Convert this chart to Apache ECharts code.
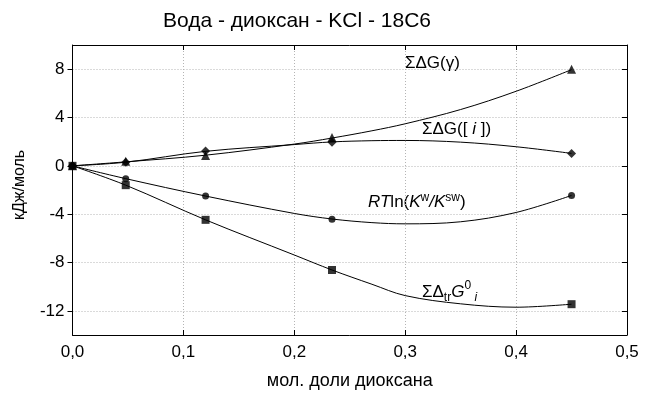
<!DOCTYPE html>
<html>
<head>
<meta charset="utf-8">
<script src="https://cdn.jsdelivr.net/npm/echarts@6/dist/echarts.min.js"></script>
<style>
html,body{margin:0;padding:0;background:#fff;}
#c{width:648px;height:396px;}
</style>
</head>
<body>
<div id="c"></div>
<script>
// ---- data ----
const titleText = 'Вода - диоксан - KCl - 18C6';
const xName = 'мол. доли диоксана';
const yName = 'кДж/моль';
const yTicks = [-12, -8, -4, 0, 4, 8];

// measured points
const xPoints   = [0, 0.048, 0.12, 0.234, 0.45];
const gammaPts  = [0, 0.37, 0.85, 2.35, 8.0];     // ΣΔG(γ)  triangles
const iPts      = [0, 0.30, 1.22, 1.95, 1.03];    // ΣΔG([i]) diamonds
const rtPts     = [0, -1.06, -2.50, -4.42, -2.45];// RTln(Kw/Ksw) circles
const trPts     = [0, -1.60, -4.47, -8.62, -11.45];// ΣΔtrG0i squares

// fitted curves
const xCurve     = [0, 0.048, 0.12, 0.2, 0.234, 0.27, 0.3, 0.35, 0.4, 0.45];
const gammaCurve = [0, 0.33, 0.88, 1.80, 2.30, 2.90, 3.48, 4.66, 6.17, 7.96];
const iCurve     = [0, 0.30, 1.20, 1.76, 1.98, 2.08, 2.10, 1.96, 1.58, 1.03];
const rtCurve    = [0, -1.06, -2.50, -3.94, -4.40, -4.70, -4.80, -4.63, -3.86, -2.45];
const trCurve    = [0, -1.60, -4.47, -7.38, -8.62, -9.80, -10.74, -11.42, -11.70, -11.45];

// ---- build ----
const zip = (xs, ys) => xs.map((x, i) => [x, ys[i]]);
const FONT = '"Liberation Sans", Arial, sans-serif';

const chart = echarts.init(document.getElementById('c'), null, {renderer: 'canvas'});

function curve(ys) {
  return {
    type: 'line', data: zip(xCurve, ys), smooth: 0.35, showSymbol: false, silent: true,
    lineStyle: {color: '#000', width: 1}, z: 2
  };
}
function pts(ys, symbol, size) {
  return {
    type: 'scatter', data: zip(xPoints, ys), symbol: symbol, symbolSize: size,
    itemStyle: {color: '#000'}, z: 3
  };
}

const axisLabelStyle = {color: '#000', fontSize: 17, fontFamily: FONT};
const AF = 17, SF = 12;

const option = {
  backgroundColor: '#fff',
  animation: false,
  grid: {left: 72.5, right: 21, top: 45, bottom: 61, show: false},
  xAxis: [{
    type: 'value', min: 0, max: 0.5, interval: 0.1, position: 'bottom',
    axisLine: {show: true, onZero: false, lineStyle: {color: '#000', width: 1}},
    axisTick: {show: true, inside: true, length: 5, lineStyle: {color: '#000'}},
    axisLabel: Object.assign({margin: 9, formatter: v => v.toFixed(1).replace('.', ',')}, axisLabelStyle),
    splitLine: {show: true, lineStyle: {color: '#b4b4b4', type: [1, 2], width: 1}},
    name: xName, nameLocation: 'middle', nameGap: 37,
    nameTextStyle: {color: '#000', fontSize: 18, fontFamily: FONT}
  }, {
    type: 'value', min: 0, max: 0.5, interval: 0.1, position: 'top',
    axisLine: {show: true, onZero: false, lineStyle: {color: '#000', width: 1}},
    axisTick: {show: true, inside: true, length: 5, lineStyle: {color: '#000'}},
    axisLabel: {show: false}, splitLine: {show: false}
  }],
  yAxis: [{
    type: 'value', min: -14, max: 10, position: 'left',
    axisLine: {show: true, onZero: false, lineStyle: {color: '#000', width: 1}},
    axisTick: {show: true, inside: false, length: 5, customValues: yTicks, lineStyle: {color: '#000'}},
    axisLabel: Object.assign({margin: 8, customValues: yTicks}, axisLabelStyle),
    splitLine: {show: true, lineStyle: {color: '#b4b4b4', type: [1, 2], width: 1}},
    name: yName, nameLocation: 'middle', nameGap: 45, nameRotate: 90,
    nameTextStyle: {color: '#000', fontSize: 16, fontFamily: FONT, padding: [0, 0, 0, 10]}
  }, {
    type: 'value', min: -14, max: 10, position: 'right',
    axisLine: {show: true, onZero: false, lineStyle: {color: '#000', width: 1}},
    axisTick: {show: true, inside: true, length: 5, customValues: yTicks, lineStyle: {color: '#000'}},
    axisLabel: {show: false}, splitLine: {show: false}
  }],
  series: [
    curve(gammaCurve), curve(iCurve), curve(rtCurve), curve(trCurve),
    pts(gammaPts, 'triangle', 9),
    pts(iPts, 'diamond', 9),
    pts(rtPts, 'circle', 7),
    pts(trPts, 'rect', 8)
  ],
  graphic: [
    {type: 'text', x: 297, y: 21, style: {text: titleText, fill: '#000', font: '21px ' + FONT, textAlign: 'center', textVerticalAlign: 'middle'}},
    {type: 'text', x: 405, y: 63, style: {
      text: '{n|ΣΔG(γ)}', textVerticalAlign: 'middle',
      rich: {n: {fontSize: AF, fontFamily: FONT, fill: '#000', lineHeight: 20}}
    }},
    {type: 'text', x: 422, y: 129, style: {
      text: '{n|ΣΔG([ }{i|i}{n| ])}', textVerticalAlign: 'middle',
      rich: {
        n: {fontSize: AF, fontFamily: FONT, fill: '#000', lineHeight: 20},
        i: {fontSize: AF, fontFamily: FONT, fontStyle: 'italic', fill: '#000', lineHeight: 20}
      }
    }},
    {type: 'text', x: 368, y: 202, style: {
      text: '{i|RT}{n|ln(}{i|K}{sup|w}{i|/K}{sup|sw}{n|)}', textVerticalAlign: 'middle',
      rich: {
        n: {fontSize: AF, fontFamily: FONT, fill: '#000', lineHeight: 20},
        i: {fontSize: AF, fontFamily: FONT, fontStyle: 'italic', fill: '#000', lineHeight: 20},
        sup: {fontSize: SF, fontFamily: FONT, fill: '#000', lineHeight: 13, verticalAlign: 'top'}
      }
    }},
    {type: 'text', x: 422, y: 292, style: {
      text: '{n|ΣΔ}{sub|tr}{i|G}{sup|0}{sub| }{subi|i}', textVerticalAlign: 'middle',
      rich: {
        n: {fontSize: AF, fontFamily: FONT, fill: '#000', lineHeight: 24},
        i: {fontSize: AF, fontFamily: FONT, fontStyle: 'italic', fill: '#000', lineHeight: 24},
        sup: {fontSize: SF, fontFamily: FONT, fill: '#000', lineHeight: 13, verticalAlign: 'top'},
        sub: {fontSize: SF, fontFamily: FONT, fill: '#000', lineHeight: 13, verticalAlign: 'bottom'},
        subi: {fontSize: SF, fontFamily: FONT, fontStyle: 'italic', fill: '#000', lineHeight: 13, verticalAlign: 'bottom'}
      }
    }}
  ]
};
chart.setOption(option);
</script>
</body>
</html>
